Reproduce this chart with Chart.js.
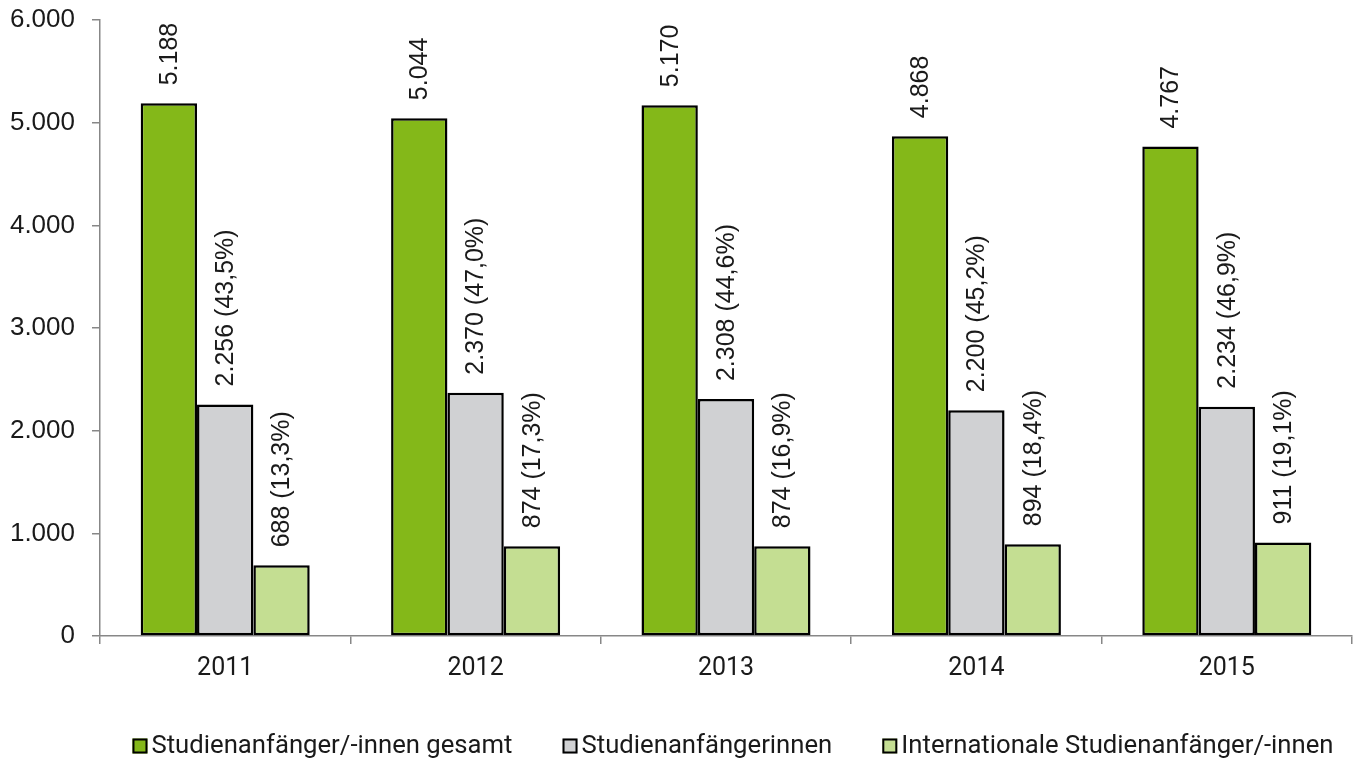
<!DOCTYPE html>
<html lang="de">
<head>
<meta charset="utf-8">
<title>Studienanfänger/-innen 2011–2015</title>
<script src="https://cdn.jsdelivr.net/npm/chart.js@4"></script>
<style>
  html, body { margin: 0; padding: 0; background: #fff; }
  #wrap { width: 1364px; height: 763px; position: relative; }
</style>
</head>
<body>
<div id="wrap"><canvas id="chart"></canvas></div>
<script>
/* Studienanfänger/-innen nach Jahr — gruppierte Säulen mit Wertbeschriftung */

const YEARS = ['2011', '2012', '2013', '2014', '2015'];
const TOTAL = [5188, 5044, 5170, 4868, 4767];
const FEMALE = [2256, 2370, 2308, 2200, 2234];
const FEMALE_SHARE = [43.5, 47.0, 44.6, 45.2, 46.9];
const INTL = [688, 874, 874, 894, 911];
const INTL_SHARE = [13.3, 17.3, 16.9, 18.4, 19.1];
const SERIES_NAMES = [
  'Studienanfänger/-innen gesamt',
  'Studienanfängerinnen',
  'Internationale Studienanfänger/-innen'
];

const COLORS = { green: '#84b819', gray: '#d0d1d3', lightGreen: '#c4de92' };
const AXIS_COLOR = '#878787';
const TEXT_COLOR = '#1a1a1a';
const NUM_FONT = '"Liberation Sans", Arial, sans-serif';
const TEXT_FONT = 'Roboto, "Noto Sans", sans-serif';

function fmtThousands(n) {
  return String(Math.round(n)).replace(/\B(?=(\d{3})+(?!\d))/g, '.');
}

function fmtShare(p) {
  return p.toFixed(1).replace('.', ',') + '%';
}

function barLabel(dsIndex, i) {
  if (dsIndex === 0) return fmtThousands(TOTAL[i]);
  if (dsIndex === 1) return fmtThousands(FEMALE[i]) + ' (' + fmtShare(FEMALE_SHARE[i]) + ')';
  return fmtThousands(INTL[i]) + ' (' + fmtShare(INTL_SHARE[i]) + ')';
}

// vertical value labels above each bar
const barValueLabels = {
  id: 'barValueLabels',
  afterDatasetsDraw(chart) {
    const ctx = chart.ctx;
    ctx.save();
    ctx.font = '25px ' + NUM_FONT;
    ctx.fillStyle = TEXT_COLOR;
    ctx.textAlign = 'left';
    ctx.textBaseline = 'middle';
    chart.data.datasets.forEach(function(ds, d) {
      chart.getDatasetMeta(d).data.forEach(function(bar, i) {
        ctx.save();
        ctx.translate(bar.x + 1, bar.y - 18);
        ctx.rotate(-Math.PI / 2);
        ctx.fillText(barLabel(d, i), 0, 0);
        ctx.restore();
      });
    });
    ctx.restore();
  }
};

// legend row along the bottom edge, small gap between box and text
const bottomLegend = {
  id: 'bottomLegend',
  afterDraw(chart) {
    const ctx = chart.ctx;
    const box = 15, gap = 4, spacing = 50, y = 746;
    ctx.save();
    ctx.font = '25.7px ' + TEXT_FONT;
    const widths = chart.data.datasets.map(function(ds) {
      return box + gap + ctx.measureText(ds.label).width;
    });
    const total = widths.reduce(function(a, b) { return a + b; }, 0) + spacing * (widths.length - 1);
    let x = 733 - total / 2;
    chart.data.datasets.forEach(function(ds, i) {
      ctx.fillStyle = ds.backgroundColor;
      ctx.fillRect(x, y - box / 2, box, box);
      ctx.lineWidth = 2;
      ctx.strokeStyle = '#000';
      ctx.strokeRect(x + 1, y - box / 2 + 1, box - 2, box - 2);
      ctx.fillStyle = TEXT_COLOR;
      ctx.textAlign = 'left';
      ctx.textBaseline = 'middle';
      ctx.fillText(ds.label, x + box + gap, y + 1);
      x += widths[i] + spacing;
    });
    ctx.restore();
  }
};

function makeDataset(label, data, color) {
  return {
    label: label,
    data: data,
    backgroundColor: color,
    borderColor: '#000',
    borderWidth: 2.5,
    borderSkipped: false,
    categoryPercentage: 0.675,
    barPercentage: 1.0
  };
}

new Chart(document.getElementById('chart'), {
  type: 'bar',
  data: {
    labels: YEARS,
    datasets: [
      makeDataset(SERIES_NAMES[0], TOTAL, COLORS.green),
      makeDataset(SERIES_NAMES[1], FEMALE, COLORS.gray),
      makeDataset(SERIES_NAMES[2], INTL, COLORS.lightGreen)
    ]
  },
  options: {
    responsive: true,
    maintainAspectRatio: false,
    animation: false,
    layout: { padding: { top: 20, right: 12, left: 0, bottom: 0 } },
    plugins: {
      legend: { display: false },
      tooltip: { enabled: false }
    },
    scales: {
      x: {
        grid: {
          offset: true, drawOnChartArea: false, drawTicks: true,
          tickLength: 8, color: AXIS_COLOR, lineWidth: 1.5
        },
        border: { color: AXIS_COLOR, width: 1.5 },
        ticks: { color: TEXT_COLOR, font: { family: TEXT_FONT, size: 25 }, padding: 10 },
        afterFit: function(scale) { scale.height = 127; }
      },
      y: {
        min: 0,
        max: 6000,
        grid: {
          drawOnChartArea: false, drawTicks: true,
          tickLength: 8, color: AXIS_COLOR, lineWidth: 1.5
        },
        border: { color: AXIS_COLOR, width: 1.5 },
        ticks: {
          stepSize: 1000,
          color: TEXT_COLOR,
          font: { family: NUM_FONT, size: 26 },
          padding: 17,
          callback: function(v) { return fmtThousands(v); }
        },
        afterFit: function(scale) {
          scale.width = 100;
          scale.paddingTop = 0;
          scale.paddingBottom = 0;
        }
      }
    }
  },
  plugins: [barValueLabels, bottomLegend]
});
</script>
</body>
</html>
